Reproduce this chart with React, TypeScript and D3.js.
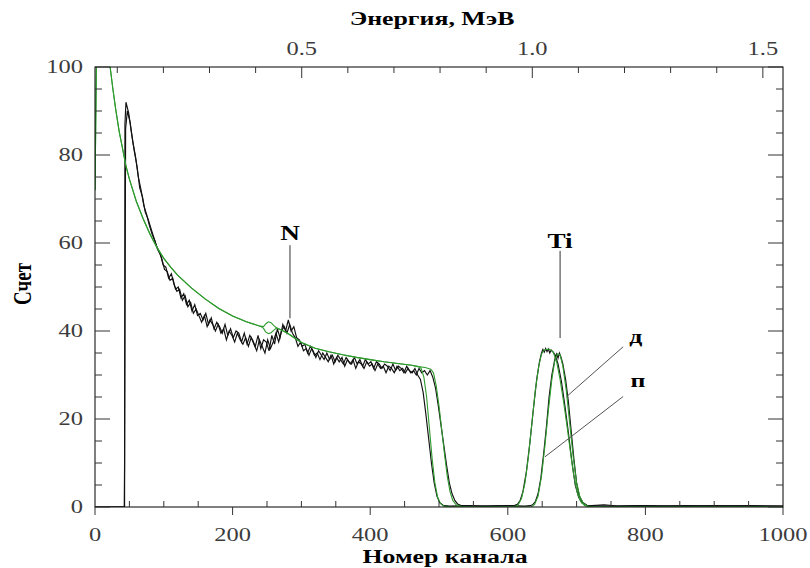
import React, { useEffect, useRef } from "react";
import * as d3 from "d3";

type Pt = [number, number];

// axis ticks
const countTicks = [0, 20, 40, 60, 80, 100];
const channelTicks = [0, 200, 400, 600, 800, 1000];
const energyTicks = [0.5, 1.0, 1.5];
const energyTickLabels = ["0.5", "1.0", "1.5"];

// energy calibration, MeV = offset + gain * channel
const energyOffset = 0.0517;
const energyGain = 0.001492;

// measured spectrum 1: noisy part read every 4 channels starting at channel 45
const measured1Start = 45;
const measured1Low = [
  92, 89.5, 85, 81, 77.5, 72.5, 70.5, 67, 65.5, 63.5, 61.5, 59.5, 58, 56.5, 54, 53.5,
  51.5, 52, 49.5, 50, 47.5, 48.5, 46, 47, 44.5, 46, 43.5, 44, 42.5, 44, 41.5, 43,
  40.5, 42, 41, 39.5, 41.5, 39, 40.5, 38.5, 40, 39.5, 37.5, 39.5, 37, 39, 38, 36.5,
  39, 36, 38, 37.5, 35.5, 39, 37, 40.5, 38.5, 41.5, 40, 42.5, 40, 41, 38.5, 38,
  36.5, 37, 35, 36.5, 35.5, 34, 35.5, 34.5, 33.5, 35, 33.5, 34.5, 33, 34.5, 33.5, 32.5,
  34, 33, 32.5, 34, 32.5, 33.5, 32, 33.5, 32.5, 33, 31.5, 33, 32.5, 31.5, 32.5, 32,
  31, 32.5, 31, 32, 31.5, 30.5, 32, 31, 30.5, 31.5, 30, 29,
];
const measured1Head: Pt[] = [[0, 0], [43, 0], [43.5, 87]];
const measured1Tail: Pt[] = [
  [477, 26], [481, 21], [485, 15.5], [489, 10], [493, 5.5], [497, 2.5], [501, 1],
  [506, 0.4], [515, 0.2], [540, 0.3], [570, 0.2], [600, 0.3], [610, 0.4],
  [614, 0.6], [618, 1.5], [622, 3.5], [627, 8], [632, 14.5], [637, 22], [642, 29],
  [646, 33], [649, 35], [651, 35.8], [653, 35.2], [655, 36], [657, 35.3], [659, 35.9],
  [661, 35], [663, 35.7], [666, 35.2], [669, 34.5], [673, 32.5], [678, 28.5], [683, 23],
  [688, 17], [693, 10.5], [698, 5], [703, 2.2], [708, 0.9], [714, 0.4], [722, 0.3],
  [740, 0.5], [760, 0.2], [790, 0.3], [820, 0.2], [860, 0.3], [900, 0.2], [950, 0.3],
  [1000, 0.2],
];

// measured spectrum 2: noisy part read every 4 channels starting at channel 47
const measured2Start = 47;
const measured2Low = [
  90, 87.5, 83, 79.5, 75, 72, 68.5, 66.5, 64, 62, 60.5, 58.5, 57.5, 55, 54.5, 52,
  53, 50.5, 49, 49.5, 47, 48, 45.5, 46.5, 44, 45, 43.5, 42, 43.5, 41, 42.5, 41.5,
  40, 41.5, 39.5, 40.5, 38, 40, 39, 37.5, 39.5, 38, 37, 38.5, 36.5, 38.5, 37, 35.5,
  38, 36.5, 35, 38, 36, 37.5, 39.5, 37.5, 40, 41, 39.5, 41.5, 39.5, 38.5, 36.5, 37.5,
  35.5, 36, 34.5, 36, 34.5, 35, 33.5, 35, 34, 33, 34.5, 32.5, 34, 33, 34, 32,
  33.5, 32.5, 33.5, 31.5, 33, 32.5, 31.5, 33, 32, 32.5, 31, 32.5, 31.5, 32, 30.5, 32,
  31.5, 30.5, 32, 31, 31.5, 30.5, 31.5, 30.5, 31, 30, 31.5, 30.5, 31, 30, 31, 29.5,
];
const measured2Head: Pt[] = [[0, 0], [42.5, 0], [43, 10], [44.5, 86]];
const measured2Tail: Pt[] = [
  [495, 27], [499, 23], [503, 18.5], [507, 14], [511, 9.5], [515, 5.5], [519, 3],
  [523, 1.5], [527, 0.7], [533, 0.3], [560, 0.2], [600, 0.3], [625, 0.2], [632, 0.3],
  [636, 0.5], [640, 1.2], [644, 3], [648, 6.5], [652, 12], [656, 18], [660, 25],
  [664, 30], [667, 32.5], [669, 34], [671, 34.8], [673, 33.8], [675, 35], [677, 34.2],
  [680, 32.5], [684, 29], [688, 24], [692, 17.5], [696, 11], [700, 5.5], [704, 2.5],
  [709, 1], [715, 0.4], [725, 0.3], [750, 0.2], [800, 0.3], [850, 0.2], [900, 0.3],
  [1000, 0.2],
];

// simulations (green), shared low-channel part
const simulatedLow: Pt[] = [
  [0, 72], [1, 86], [2, 100], [3, 114], [18, 114], [22, 100], [26, 95], [30, 90.5],
  [35, 85.5], [40, 81.5], [45, 77.5], [50, 74.5], [60, 69.5], [70, 65.5], [80, 62],
  [90, 59], [100, 56.5], [110, 54.5], [120, 52.7], [140, 49.8], [160, 47.3],
  [180, 45.1], [200, 43.4], [220, 42.1], [240, 41.1],
];
const simulated1N: Pt[] = [[245, 41], [248, 41.6], [252, 42.1], [256, 41.9], [260, 41.2], [264, 40.7]];
const simulated2N: Pt[] = [[245, 40.6], [248, 39.8], [252, 39.4], [256, 39.6], [260, 40.2], [264, 40.7]];
const simulatedMid: Pt[] = [
  [270, 40.3], [280, 39.5], [290, 38.4], [300, 37.4], [320, 36.1], [340, 35.3],
  [360, 34.6], [380, 34], [400, 33.5], [420, 33], [440, 32.6], [460, 32.2], [470, 31.9],
];
const simulated1Tail: Pt[] = [
  [474, 31.5], [478, 29.5], [482, 25], [486, 18], [490, 11], [494, 5.5], [498, 2.2],
  [502, 0.8], [507, 0.2], [520, 0], [610, 0], [615, 0.5], [620, 2], [625, 5.5],
  [630, 11.5], [635, 19], [640, 26.5], [645, 32], [649, 34.8], [653, 35.7], [660, 35.9],
  [666, 35.2], [671, 33], [676, 29], [681, 24], [686, 18.5], [691, 12.5], [696, 7],
  [701, 3.2], [706, 1.2], [712, 0.3], [720, 0], [1000, 0],
];
const simulated2Tail: Pt[] = [
  [480, 31.7], [488, 31.3], [492, 30.5], [496, 27.5], [500, 23], [504, 17.5], [508, 12],
  [512, 7], [516, 3.5], [520, 1.5], [525, 0.5], [532, 0.1], [545, 0], [634, 0],
  [639, 0.6], [644, 2.5], [649, 7], [654, 14], [659, 22], [664, 29], [668, 33],
  [672, 34.8], [676, 34.6], [680, 32], [685, 26.5], [690, 19], [695, 11.5], [700, 5.5],
  [705, 2.2], [710, 0.8], [716, 0.2], [725, 0], [1000, 0],
];

// peak markers: label, channel, text baseline count, line from / to count
const peakMarks = [
  { label: "N", ch: 283.4, text: 60.6, from: 59.5, to: 42.9 },
  { label: "Ti", ch: 676, text: 58.8, from: 58.2, to: 38.4 },
];
// sample labels with leader lines: [channel, count] of label and of line ends
const sampleMarks = [
  { label: "д", at: [786, 37.3], from: [767.6, 36.4], to: [685.5, 25.1] },
  { label: "п", at: [789, 27.3], from: [767.6, 25.1], to: [654, 11.4] },
];

const SERIF = "'Liberation Serif', 'Times New Roman', serif";
const SX = 1.36; // source text is stretched horizontally

const toPoints = (start: number, values: number[]): Pt[] =>
  values.map((v, i) => [start + i * 4, v] as Pt);

const SpectrumChart: React.FC = () => {
  const svgRef = useRef<SVGSVGElement>(null);

  useEffect(() => {
    if (!svgRef.current) return;
    const svg = d3.select(svgRef.current);
    svg.selectAll("*").remove();

    const left = 95;
    const right = 783;
    const top = 67;
    const bottom = 507;

    const x = d3.scaleLinear().domain([0, 1000]).range([left, right]);
    const y = d3.scaleLinear().domain([0, 100]).range([bottom, top]);
    const e = d3
      .scaleLinear()
      .domain([energyOffset, energyOffset + 1000 * energyGain])
      .range([left, right]);

    svg.append("rect").attr("width", 810).attr("height", 568).attr("fill", "#fff");

    const text = (
      px: number,
      py: number,
      str: string,
      size: number,
      opts: { anchor?: string; weight?: string; fill?: string; rotate?: boolean } = {}
    ) => {
      svg
        .append("g")
        .attr("transform", `translate(${px},${py}) scale(${SX},1)${opts.rotate ? " rotate(-90)" : ""}`)
        .append("text")
        .attr("text-anchor", opts.anchor ?? "middle")
        .attr("font-family", SERIF)
        .attr("font-size", size)
        .attr("font-weight", opts.weight ?? "normal")
        .attr("fill", opts.fill ?? "#000")
        .text(str);
    };

    svg
      .append("defs")
      .append("clipPath")
      .attr("id", "plot-area")
      .append("rect")
      .attr("x", left)
      .attr("y", top)
      .attr("width", right - left)
      .attr("height", bottom - top);

    const line = d3
      .line<Pt>()
      .x((d) => x(d[0]))
      .y((d) => y(d[1]));

    const measured1 = [...measured1Head, ...toPoints(measured1Start, measured1Low), ...measured1Tail];
    const measured2 = [...measured2Head, ...toPoints(measured2Start, measured2Low), ...measured2Tail];
    const simulated1 = [...simulatedLow, ...simulated1N, ...simulatedMid, ...simulated1Tail];
    const simulated2 = [...simulatedLow, ...simulated2N, ...simulatedMid, ...simulated2Tail];

    const plot = svg.append("g").attr("clip-path", "url(#plot-area)");
    [measured1, measured2].forEach((s) => {
      plot
        .append("path")
        .datum(s)
        .attr("fill", "none")
        .attr("stroke", "#111")
        .attr("stroke-width", 1.15)
        .attr("d", line);
    });
    [simulated1, simulated2].forEach((s) => {
      plot
        .append("path")
        .datum(s)
        .attr("fill", "none")
        .attr("stroke", "#2f9a2f")
        .attr("stroke-width", 1.1)
        .attr("d", line);
    });

    // frame
    svg
      .append("rect")
      .attr("x", left)
      .attr("y", top)
      .attr("width", right - left)
      .attr("height", bottom - top)
      .attr("fill", "none")
      .attr("stroke", "#000")
      .attr("stroke-width", 1);

    const tick = (x1: number, y1: number, x2: number, y2: number) =>
      svg
        .append("line")
        .attr("x1", x1)
        .attr("y1", y1)
        .attr("x2", x2)
        .attr("y2", y2)
        .attr("stroke", "#333")
        .attr("stroke-width", 1);

    d3.range(0, 101, 5).forEach((v) => {
      const len = v % 20 === 0 ? 15 : 7;
      tick(left, y(v), left + len, y(v));
      tick(right, y(v), right - len, y(v));
    });
    d3.range(0, 1001, 50).forEach((c) => {
      if (c % 200 === 0) tick(x(c), bottom, x(c), bottom + 8);
      else tick(x(c), bottom, x(c), bottom - 6);
    });
    d3.range(1, 16).forEach((i) => {
      const v = i / 10;
      tick(e(v), top, e(v), top + (i % 5 === 0 ? 11 : 6));
    });

    // tick labels
    countTicks.forEach((v) => text(83, y(v) + 6, String(v), 18, { anchor: "end", fill: "#3c3c3c" }));
    channelTicks.forEach((c) => text(x(c), 541, String(c), 18, { fill: "#3c3c3c" }));
    energyTicks.forEach((v, i) => text(e(v), 55, energyTickLabels[i], 18, { fill: "#3c3c3c" }));

    // titles
    text(432, 25, "Энергия, МэВ", 19, { weight: "bold" });
    text(445, 563, "Номер канала", 19, { weight: "bold" });
    text(31, 284, "Счет", 19, { weight: "bold", rotate: true });
    text(131, -4, "(рис.)", 19, { anchor: "start", weight: "bold" });

    // peak markers
    peakMarks.forEach((m) => {
      svg
        .append("line")
        .attr("x1", x(m.ch))
        .attr("x2", x(m.ch))
        .attr("y1", y(m.from))
        .attr("y2", y(m.to))
        .attr("stroke", "#333")
        .attr("stroke-width", 1);
      text(x(m.ch), y(m.text), m.label, 20, { weight: "bold" });
    });

    sampleMarks.forEach((m) => {
      svg
        .append("line")
        .attr("x1", x(m.from[0]))
        .attr("y1", y(m.from[1]))
        .attr("x2", x(m.to[0]))
        .attr("y2", y(m.to[1]))
        .attr("stroke", "#555")
        .attr("stroke-width", 1);
      text(x(m.at[0]), y(m.at[1]), m.label, 19, { weight: "bold" });
    });
  }, []);

  return (
    <svg
      ref={svgRef}
      width={810}
      height={568}
      style={{ position: "absolute", left: 0, top: 0, display: "block" }}
    />
  );
};

export default function App() {
  return <SpectrumChart />;
}
